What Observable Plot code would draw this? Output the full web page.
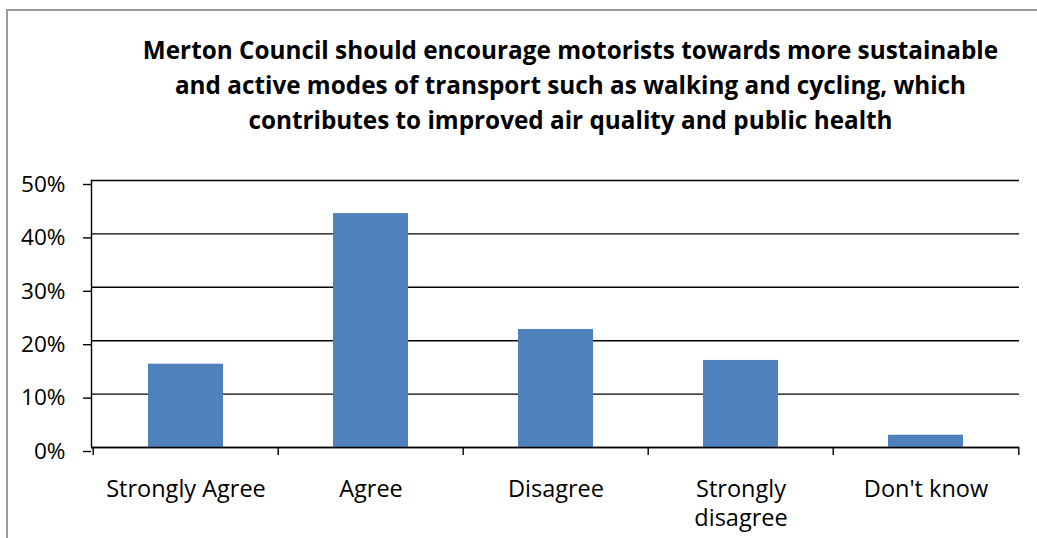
<!DOCTYPE html>
<html>
<head>
<meta charset="utf-8">
<script src="https://cdn.jsdelivr.net/npm/d3@7"></script>
<script src="https://cdn.jsdelivr.net/npm/@observablehq/plot@0.6"></script>
<style>
  html, body { margin: 0; padding: 0; background: #fff; }
  #wrap { position: relative; width: 1037px; height: 538px; overflow: hidden; font-family: "Open Sans", Lato, sans-serif; }
  #border { position: absolute; left: 6px; top: 9px; width: 1100px; height: 600px; border-left: 2px solid #9a9a9a; border-top: 2px solid #9a9a9a; box-sizing: border-box; }
  #title { position: relative; height: 150px; box-sizing: border-box; padding-top: 32px; padding-left: 104px; text-align: center; font-weight: bold; font-size: 24.3px; line-height: 35px; color: #000; white-space: nowrap; }
  #chart { position: relative; }
</style>
</head>
<body>
<div id="wrap">
  <div id="border"></div>
  <div id="title">Merton Council should encourage motorists towards more sustainable<br>and active modes of transport such as walking and cycling, which<br>contributes to improved air quality and public health</div>
  <div id="chart"></div>
</div>
<script>
const categories = ["Strongly Agree", "Agree", "Disagree", "Strongly disagree", "Don't know"];
const values = [0.156, 0.438, 0.221, 0.163, 0.023];
const tickLabels = ["Strongly Agree", "Agree", "Disagree", "Strongly\ndisagree", "Don't know"];
const yTicks = [0, 0.1, 0.2, 0.3, 0.4, 0.5];

const data = categories.map((c, i) => ({category: c, value: values[i], label: tickLabels[i]}));

const width = 1037, height = 388;
const marginLeft = 91, marginRight = 18, marginTop = 30, marginBottom = 91;
const step = (width - marginLeft - marginRight) / categories.length;

const chart = Plot.plot({
  width, height, marginLeft, marginRight, marginTop, marginBottom,
  style: {fontFamily: "'Open Sans', Lato, sans-serif", fontSize: "20px", color: "#000", background: "transparent", overflow: "visible"},
  x: {domain: categories, paddingInner: 0.596, paddingOuter: 0.298, axis: null},
  y: {domain: [0, 0.5], axis: null},
  marks: [
    Plot.gridY(yTicks, {stroke: "#000", strokeOpacity: 1, strokeWidth: 1.4}),
    Plot.barY(data, {x: "category", y: "value", fill: "#4F81BD"}),
    Plot.ruleY([0], {stroke: "#000", strokeWidth: 1.4}),
    Plot.frame({anchor: "left", stroke: "#000", strokeWidth: 1.4}),
    Plot.axisY(yTicks, {label: null, tickSize: 8, tickPadding: 18, tickFormat: d3.format(".0%"), stroke: "#000", strokeWidth: 1.4, fontSize: 22.6, dy: 4, fill: "#000"}),
    Plot.axisX(categories, {label: null, tickSize: 8, tickFormat: () => "", dx: -step / 2, stroke: "#000", strokeWidth: 1.4}),
    Plot.axisX([categories[categories.length - 1]], {label: null, tickSize: 8, tickFormat: () => "", dx: step / 2, stroke: "#000", strokeWidth: 1.4}),
    Plot.text(data, {x: "category", y: () => 0, text: "label", lineAnchor: "top", dy: 29, lineHeight: 1.23, fontSize: 23.5, fill: "#000"})
  ]
});
document.getElementById("chart").appendChild(chart);
</script>
</body>
</html>
